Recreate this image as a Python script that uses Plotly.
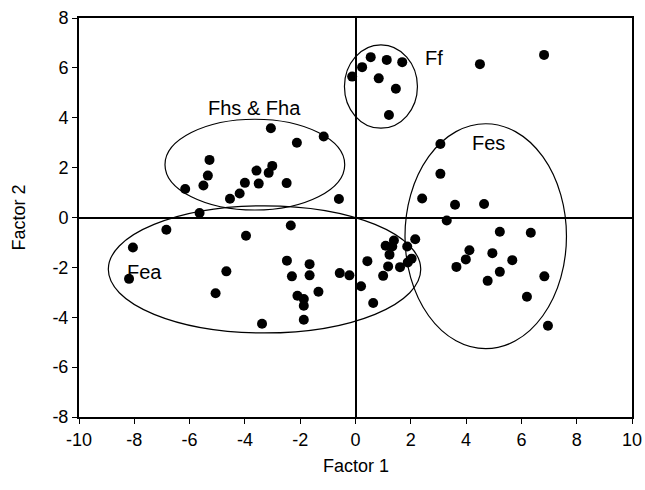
import plotly.graph_objects as go

# Factor scores
factor1 = [
    -3.06, -1.15, -2.12, -5.28, -3.01, -3.58, -3.14, -5.34, -6.16, -5.50, -4.00, -3.50, -2.49, -4.19, -4.54, -0.60,
    -5.64, -2.34, -6.84, -3.96, -8.05, -2.48, -1.66, -4.67, -8.19, -2.30, -1.66, -0.57, -0.22, 0.20, -1.34, -5.06,
    -2.10, -1.87, -1.87, -1.87, -3.38,
    0.43, 0.64, 1.09, 1.39, 1.33, 1.23, 1.18, 1.00, 1.61, 1.87, 2.16, 2.03, 1.89,
    -0.12, 0.24, 0.55, 1.13, 1.69, 0.84, 1.46, 1.21,
    3.07, 3.07, 2.41, 3.60, 4.65, 3.30, 5.22, 6.34, 4.12, 4.95, 3.99, 5.67, 3.65, 5.22, 6.83, 4.78, 6.20, 6.96,
    4.50, 6.82,
]
factor2 = [
    3.58, 3.25, 3.00, 2.31, 2.07, 1.88, 1.79, 1.68, 1.14, 1.28, 1.39, 1.36, 1.38, 0.96, 0.75, 0.74,
    0.18, -0.32, -0.49, -0.73, -1.20, -1.73, -1.87, -2.16, -2.46, -2.36, -2.32, -2.23, -2.32, -2.76, -2.98, -3.04,
    -3.14, -3.27, -3.54, -4.10, -4.26,
    -1.75, -3.43, -1.13, -0.92, -1.16, -1.49, -1.96, -2.34, -1.99, -1.16, -0.87, -1.65, -1.80,
    5.65, 6.03, 6.43, 6.32, 6.23, 5.58, 5.16, 4.11,
    2.95, 1.75, 0.76, 0.51, 0.54, -0.12, -0.57, -0.61, -1.31, -1.43, -1.68, -1.71, -1.98, -2.18, -2.36, -2.54, -3.18, -4.34,
    6.15, 6.52,
]

# Group ellipses (centre x, centre y, half-width, half-height) and labels
group_names = ["Fhs & Fha", "Ff", "Fes", "Fea"]
ellipse_cx = [-3.64, 0.92, 4.71, -3.29]
ellipse_cy = [2.12, 5.25, -0.75, -2.08]
ellipse_rx = [3.25, 1.32, 2.92, 5.65]
ellipse_ry = [1.82, 1.67, 4.51, 2.55]
label_x = [-3.64, 2.84, 4.82, -7.62]
label_y = [4.40, 6.40, 3.00, -2.18]

x_ticks = list(range(-10, 11, 2))
y_ticks = list(range(-8, 9, 2))
x_title = "Factor 1"
y_title = "Factor 2"

fig = go.Figure()
fig.add_trace(go.Scatter(
    x=factor1, y=factor2, mode="markers",
    marker=dict(color="black", size=10),
    showlegend=False, hoverinfo="x+y",
))

for cx, cy, rx, ry in zip(ellipse_cx, ellipse_cy, ellipse_rx, ellipse_ry):
    fig.add_shape(type="circle", xref="x", yref="y",
                  x0=cx - rx, x1=cx + rx, y0=cy - ry, y1=cy + ry,
                  line=dict(color="black", width=1.2), layer="below")

for name, lx, ly in zip(group_names, label_x, label_y):
    fig.add_annotation(x=lx, y=ly, text=name, showarrow=False,
                       font=dict(size=20, color="black"))

# Axis titles placed as paper annotations for exact positioning
fig.add_annotation(x=0.5, y=0, xref="paper", yref="paper", text=x_title,
                   showarrow=False, xanchor="center", yanchor="middle", yshift=-49,
                   font=dict(size=18, color="black"))
fig.add_annotation(x=0, y=0.5, xref="paper", yref="paper", text=y_title,
                   showarrow=False, xanchor="center", yanchor="middle", xshift=-61,
                   textangle=-90, font=dict(size=18, color="black"))

axis_common = dict(
    showgrid=False, zeroline=True, zerolinecolor="black", zerolinewidth=1.5,
    showline=True, linecolor="black", linewidth=2, mirror=True,
    ticks="outside", ticklen=5, tickcolor="black", tickwidth=1,
    tickfont=dict(size=18, color="black"), automargin=False,
)

fig.update_xaxes(range=[-10, 10], tickvals=x_ticks, ticktext=[str(v) for v in x_ticks],
                 **axis_common)
fig.update_yaxes(range=[-8, 8], tickvals=y_ticks, ticktext=[str(v) for v in y_ticks],
                 **axis_common)

fig.update_layout(
    width=645, height=490,
    margin=dict(l=79, r=13, t=18, b=73),
    plot_bgcolor="white", paper_bgcolor="white",
    font=dict(family="Liberation Sans, Arial, sans-serif", color="black"),
)

fig.write_html(
    "out.html",
    config={"displayModeBar": False},
    post_script="document.body.style.margin='0';document.body.style.overflow='hidden';",
)
